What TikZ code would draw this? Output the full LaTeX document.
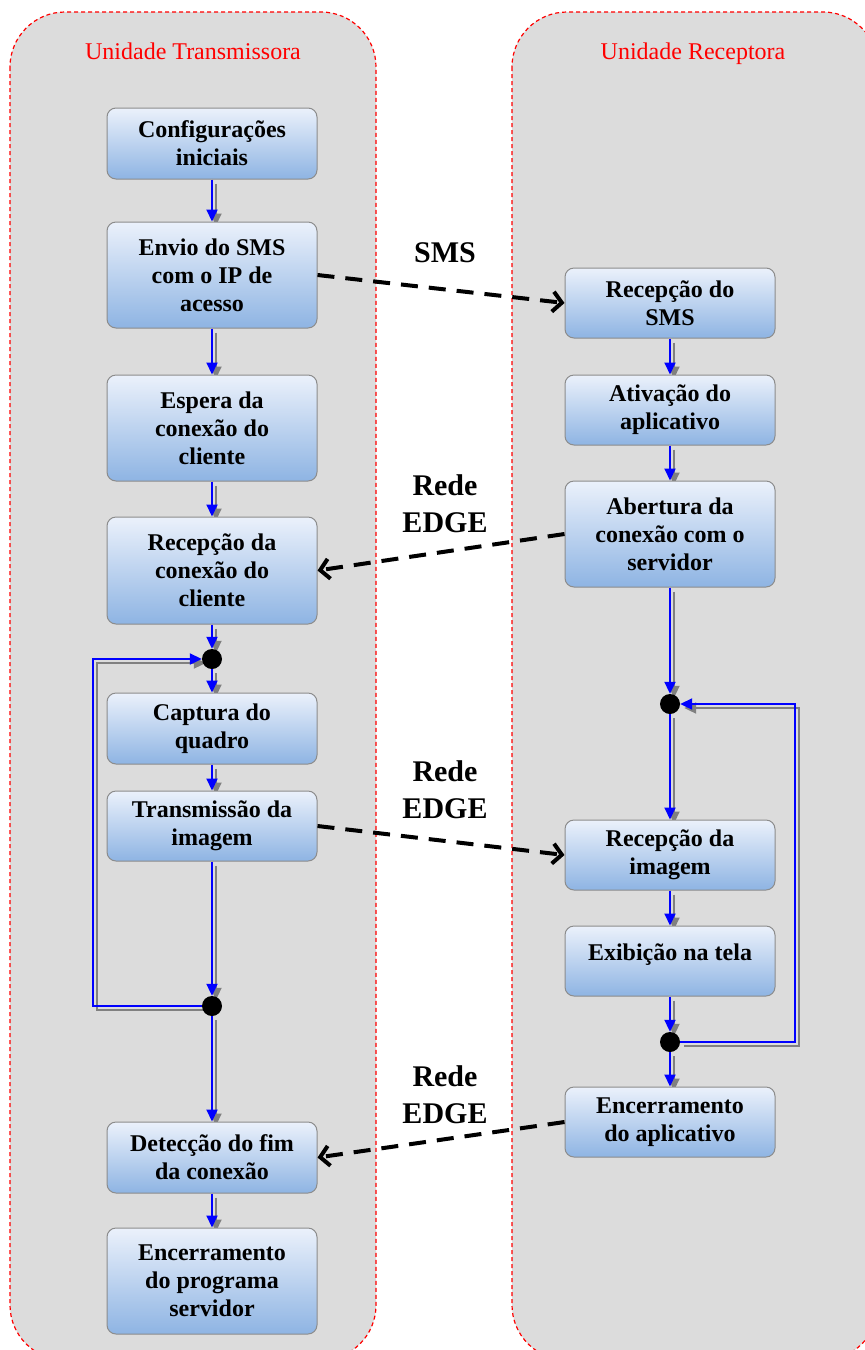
\documentclass[tikz,border=0pt]{standalone}
\usepackage{fontspec}
\setmainfont{Liberation Serif}
\usetikzlibrary{arrows.meta,backgrounds}
\definecolor{lanegray}{HTML}{DCDCDC}
\definecolor{boxtop}{HTML}{EBF1FB}
\definecolor{boxbottom}{HTML}{8EB4E3}
\definecolor{boxedge}{HTML}{8C8C8C}
\tikzset{
  lane/.style={fill=lanegray, draw=red, line width=1.2pt, dash pattern=on 4pt off 3pt, rounded corners=55pt},
  lanetitle/.style={text=red, text height=17pt, text depth=5pt, font=\fontsize{24}{28}\selectfont},
  box/.style={draw=boxedge, line width=1pt, rounded corners=9pt, top color=boxtop, bottom color=boxbottom,
    minimum width=210pt, align=center, inner sep=2pt, font=\fontsize{24}{28}\selectfont\bfseries},
  junction/.style={circle, fill=black, minimum size=20pt, inner sep=0pt},
  flow/.style={draw=blue, line width=2pt, -{Triangle[length=12pt,width=11pt]}},
  flowshadow/.style={draw=gray, line width=2pt, -{Triangle[length=12pt,width=11pt]},
    transform canvas={shift={(4pt,-4pt)}}},
  link/.style={draw=black, line width=4pt, dash pattern=on 17pt off 11pt,
    -{Straight Barb[length=9pt,width=20pt]}},
  linklabel/.style={align=center, font=\fontsize{30}{37}\selectfont\bfseries},
}
\begin{document}
\begin{tikzpicture}[x=1pt,y=-1pt]
\useasboundingbox (0,0) rectangle (865,1350);
\clip (0,0) rectangle (865,1350);
% lanes
\begin{pgfonlayer}{background}
\draw[lane] (10,12) rectangle (376,1360);
\draw[lane] (512,12) rectangle (878,1360);
\end{pgfonlayer}
\node[lanetitle] (ttitle) at (193,53) {Unidade Transmissora};
\node[lanetitle] (rtitle) at (693,53) {Unidade Receptora};
% transmissora
\node[box, minimum height=71pt] (t1) at (212,143.5) {Configurações\\iniciais};
\node[box, minimum height=106pt] (t2) at (212,275) {Envio do SMS\\com o IP de\\acesso};
\node[box, minimum height=106pt] (t3) at (212,428) {Espera da\\conexão do\\cliente};
\node[box, minimum height=107pt] (t4) at (212,570.5) {Recepção da\\conexão do\\cliente};
\node[junction] (jt1) at (212,659) {};
\node[box, minimum height=71pt] (t5) at (212,728.5) {Captura do\\quadro};
\node[box, minimum height=70pt] (t6) at (212,826) {Transmissão da\\imagem};
\node[junction] (jt2) at (212,1006) {};
\node[box, minimum height=71pt] (t7) at (212,1157.5) {Detecção do fim\\da conexão};
\node[box, minimum height=106pt] (t8) at (212,1281) {Encerramento\\do programa\\servidor};
\coordinate (tback) at (93,830);
% receptora
\node[box, minimum height=70pt] (r1) at (670,303) {Recepção do\\SMS};
\node[box, minimum height=70pt] (r2) at (670,410) {Ativação do\\aplicativo};
\node[box, minimum height=106pt] (r3) at (670,534) {Abertura da\\conexão com o\\servidor};
\node[junction] (jr1) at (670,704) {};
\node[box, minimum height=70pt] (r4) at (670,855) {Recepção da\\imagem};
\node[box, minimum height=70pt, text depth=18pt] (r5) at (670,961) {Exibição na tela};
\node[junction] (jr2) at (670,1042) {};
\node[box, minimum height=70pt] (r6) at (670,1122) {Encerramento\\do aplicativo};
\coordinate (rback) at (795,870);
% shadows
\begin{pgfonlayer}{background}
\draw[flowshadow] (t1) -- (t2);
\draw[flowshadow] (t2) -- (t3);
\draw[flowshadow] (t3) -- (t4);
\draw[flowshadow] (t4) -- (jt1);
\draw[flowshadow] (jt1) -- (t5);
\draw[flowshadow] (t5) -- (t6);
\draw[flowshadow] (t6) -- (jt2);
\draw[flowshadow] (jt2) -- (t7);
\draw[flowshadow] (t7) -- (t8);
\draw[flowshadow] (jt2) -| (tback) |- (jt1);
\draw[flowshadow] (r1) -- (r2);
\draw[flowshadow] (r2) -- (r3);
\draw[flowshadow] (r3) -- (jr1);
\draw[flowshadow] (jr1) -- (r4);
\draw[flowshadow] (r4) -- (r5);
\draw[flowshadow] (r5) -- (jr2);
\draw[flowshadow] (jr2) -- (r6);
\draw[flowshadow] (jr2) -| (rback) |- (jr1);
\end{pgfonlayer}
% flow
\draw[flow] (t1) -- (t2);
\draw[flow] (t2) -- (t3);
\draw[flow] (t3) -- (t4);
\draw[flow] (t4) -- (jt1);
\draw[flow] (jt1) -- (t5);
\draw[flow] (t5) -- (t6);
\draw[flow] (t6) -- (jt2);
\draw[flow] (jt2) -- (t7);
\draw[flow] (t7) -- (t8);
\draw[flow] (jt2) -| (tback) |- (jt1);
\draw[flow] (r1) -- (r2);
\draw[flow] (r2) -- (r3);
\draw[flow] (r3) -- (jr1);
\draw[flow] (jr1) -- (r4);
\draw[flow] (r4) -- (r5);
\draw[flow] (r5) -- (jr2);
\draw[flow] (jr2) -- (r6);
\draw[flow] (jr2) -| (rback) |- (jr1);
% links
\draw[link] (t2.east) -- (r1.west);
\draw[link] (r3.west) -- (t4.east);
\draw[link] (t6.east) -- (r4.west);
\draw[link] (r6.west) -- (t7.east);
\node[linklabel] (l1) at (445,253) {SMS};
\node[linklabel] (l2) at (445,504) {Rede\\EDGE};
\node[linklabel] (l3) at (445,790) {Rede\\EDGE};
\node[linklabel] (l4) at (445,1095) {Rede\\EDGE};
\end{tikzpicture}
\end{document}
